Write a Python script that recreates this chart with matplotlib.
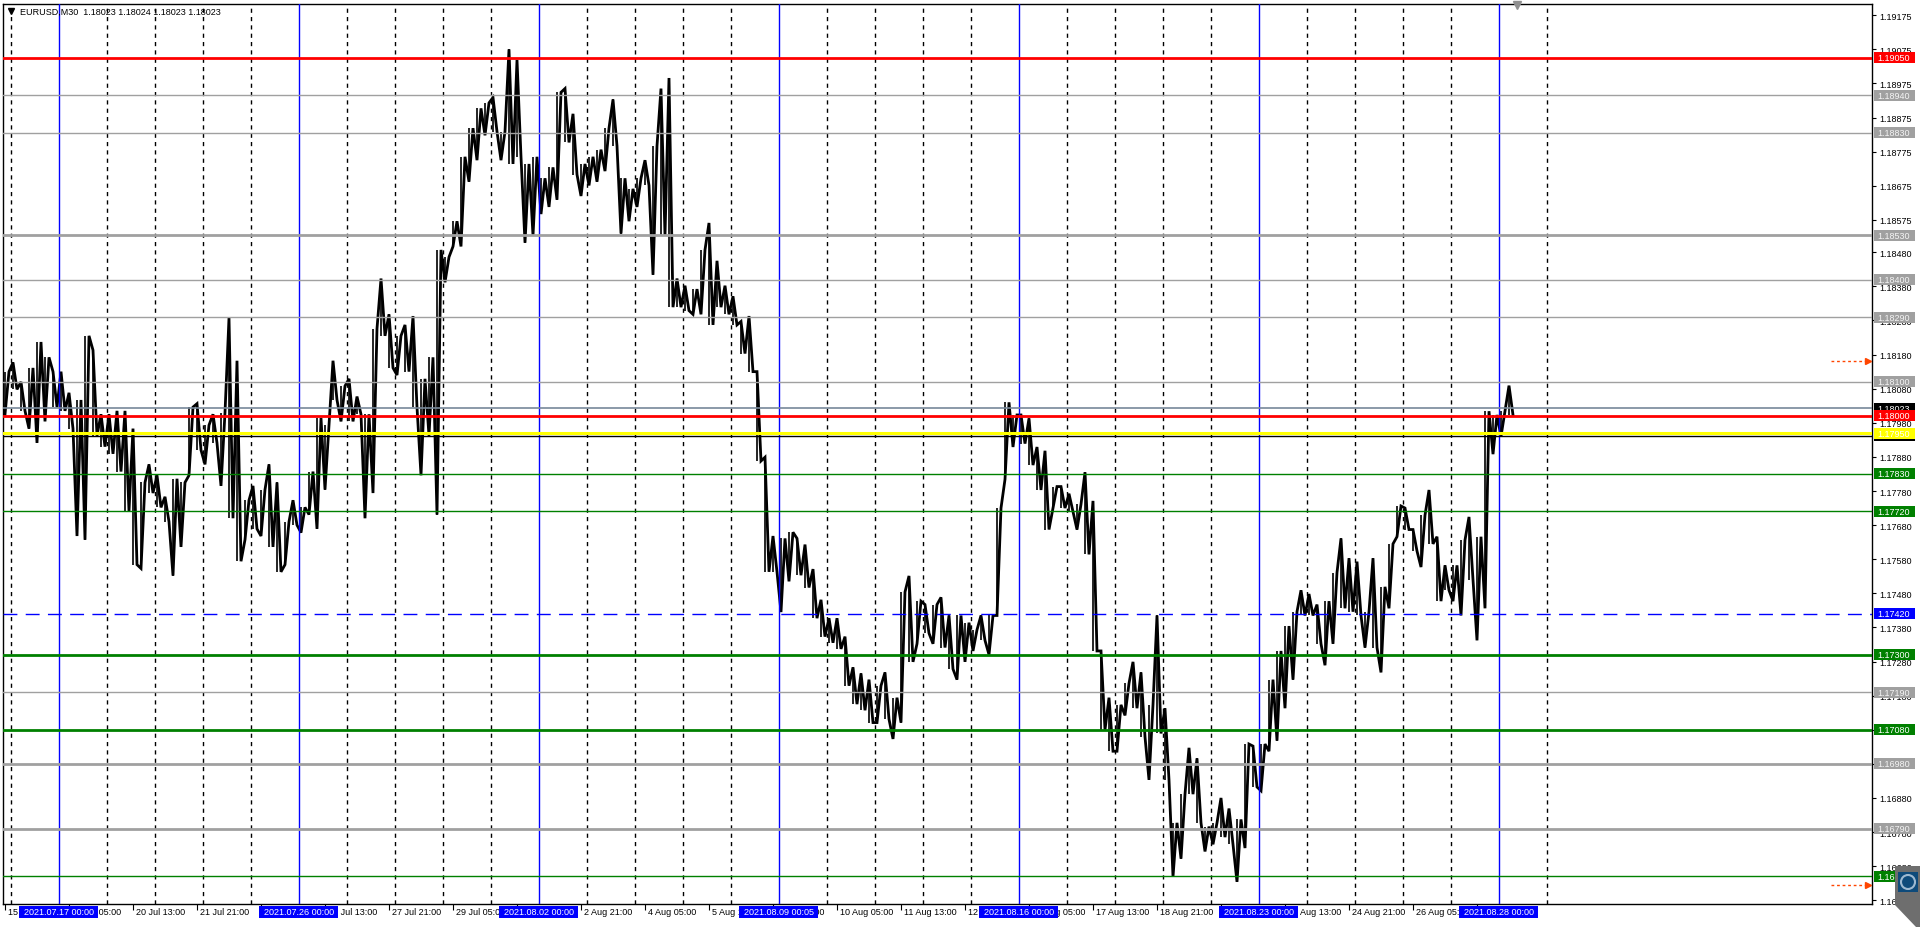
import matplotlib
matplotlib.use("Agg")
import matplotlib.pyplot as plt
import matplotlib.transforms as mtransforms
from matplotlib.patches import Rectangle, Polygon, Circle
import numpy as np

plt.rcParams['font.family'] = ['Liberation Sans', 'DejaVu Sans']

h4_high = [
    1.18130, 1.18157, 1.18100, 1.18141, 1.18217, 1.18172, 1.18130, 1.18130, 1.18068, 1.18047,
    1.18235, 1.18193, 1.18005, 1.18005, 1.18015, 1.18015, 1.17963, 1.17805, 1.17858, 1.17826,
    1.17763, 1.17816, 1.17805, 1.18026, 1.18036, 1.17973, 1.18005, 1.18010, 1.18288, 1.18162,
    1.17753, 1.17795, 1.17784, 1.17858, 1.17805, 1.17690, 1.17753, 1.17732, 1.17837, 1.17994,
    1.17973, 1.18162, 1.18088, 1.18109, 1.18057, 1.18005, 1.18256, 1.18403, 1.18298, 1.18235,
    1.18267, 1.18293, 1.18109, 1.18172, 1.18487, 1.18466, 1.18571, 1.18760, 1.18844, 1.18902,
    1.18918, 1.18934, 1.18834, 1.19075, 1.19044, 1.18739, 1.18760, 1.18697, 1.18729, 1.18949,
    1.18960, 1.18886, 1.18739, 1.18760, 1.18781, 1.18844, 1.18928, 1.18697, 1.18666, 1.18697,
    1.18750, 1.18792, 1.18960, 1.18991, 1.18403, 1.18382, 1.18372, 1.18487, 1.18566, 1.18455,
    1.18382, 1.18351, 1.18277, 1.18293, 1.18130, 1.17879, 1.17648, 1.17641, 1.17659, 1.17641,
    1.17623, 1.17551, 1.17461, 1.17407, 1.17407, 1.17353, 1.17263, 1.17245, 1.17227, 1.17209,
    1.17248, 1.17174, 1.17484, 1.17531, 1.17457, 1.17447, 1.17447, 1.17468, 1.17415, 1.17415,
    1.17394, 1.17373, 1.17415, 1.17415, 1.17730, 1.18040, 1.18003, 1.18003, 1.17993, 1.17909,
    1.17898, 1.17793, 1.17793, 1.17772, 1.17741, 1.17835, 1.17751, 1.17311, 1.17174, 1.17153,
    1.17216, 1.17279, 1.17248, 1.17153, 1.17415, 1.17143, 1.16807, 1.16891, 1.17027, 1.16996,
    1.16796, 1.16807, 1.16880, 1.16849, 1.16817, 1.17038, 1.17032, 1.17038, 1.17227, 1.17311,
    1.17384, 1.17426, 1.17489, 1.17478, 1.17447, 1.17457, 1.17541, 1.17641, 1.17583, 1.17573,
    1.17426, 1.17583, 1.17499, 1.17625, 1.17736, 1.17730, 1.17667, 1.17709, 1.17783, 1.17646,
    1.17562, 1.17562, 1.17636, 1.17704, 1.17646, 1.18014, 1.18003, 1.18014, 1.18089,
]
h4_low = [
    1.18005, 1.18078, 1.18015, 1.17963, 1.17921, 1.17984, 1.18026, 1.18015, 1.17963, 1.17648,
    1.17637, 1.17942, 1.17910, 1.17889, 1.17837, 1.17721, 1.17564, 1.17553, 1.17774, 1.17732,
    1.17690, 1.17532, 1.17616, 1.17826, 1.17900, 1.17858, 1.17921, 1.17795, 1.17700, 1.17574,
    1.17637, 1.17669, 1.17648, 1.17616, 1.17543, 1.17564, 1.17680, 1.17658, 1.17711, 1.17669,
    1.17784, 1.18047, 1.17984, 1.17984, 1.18005, 1.17700, 1.17774, 1.18235, 1.18141, 1.18120,
    1.18130, 1.18026, 1.17826, 1.17942, 1.17711, 1.18392, 1.18497, 1.18497, 1.18687, 1.18750,
    1.18823, 1.18834, 1.18750, 1.18739, 1.18760, 1.18508, 1.18529, 1.18592, 1.18613, 1.18634,
    1.18802, 1.18708, 1.18645, 1.18676, 1.18687, 1.18718, 1.18792, 1.18535, 1.18571, 1.18613,
    1.18676, 1.18414, 1.18529, 1.18319, 1.18319, 1.18309, 1.18298, 1.18298, 1.18267, 1.18319,
    1.18298, 1.18267, 1.18183, 1.18130, 1.17868, 1.17543, 1.17543, 1.17425, 1.17515, 1.17533,
    1.17497, 1.17407, 1.17353, 1.17335, 1.17317, 1.17209, 1.17155, 1.17137, 1.17101, 1.17101,
    1.17111, 1.17053, 1.17101, 1.17279, 1.17332, 1.17363, 1.17332, 1.17321, 1.17258, 1.17227,
    1.17279, 1.17311, 1.17342, 1.17300, 1.17415, 1.17814, 1.17909, 1.17919, 1.17856, 1.17783,
    1.17667, 1.17730, 1.17730, 1.17720, 1.17667, 1.17594, 1.17311, 1.17080, 1.17017, 1.17017,
    1.17122, 1.17143, 1.17059, 1.16933, 1.17069, 1.16933, 1.16649, 1.16702, 1.16891, 1.16807,
    1.16723, 1.16744, 1.16765, 1.16744, 1.16634, 1.16733, 1.16912, 1.16901, 1.17017, 1.17048,
    1.17143, 1.17227, 1.17415, 1.17415, 1.17332, 1.17269, 1.17332, 1.17436, 1.17426, 1.17415,
    1.17321, 1.17321, 1.17248, 1.17436, 1.17646, 1.17667, 1.17604, 1.17557, 1.17625, 1.17457,
    1.17489, 1.17457, 1.17415, 1.17520, 1.17342, 1.17436, 1.17888, 1.17940, 1.18003,
]

price_ticks = [1.19175, 1.19075, 1.18975, 1.18875, 1.18775, 1.18675, 1.18575, 1.18480,
               1.18380, 1.18280, 1.18180, 1.18080, 1.17980, 1.17880, 1.17780, 1.17680,
               1.17580, 1.17480, 1.17380, 1.17280, 1.17180, 1.17080, 1.16980, 1.16880,
               1.16780, 1.16680, 1.16580]

time_labels = ["15 Jul 21:00", "19 Jul 05:00", "20 Jul 13:00", "21 Jul 21:00", "23 Jul 05:00",
               "26 Jul 13:00", "27 Jul 21:00", "29 Jul 05:00", "30 Jul 13:00", "2 Aug 21:00",
               "4 Aug 05:00", "5 Aug 13:00", "6 Aug 21:00", "10 Aug 05:00", "11 Aug 13:00",
               "12 Aug 21:00", "16 Aug 05:00", "17 Aug 13:00", "18 Aug 21:00", "20 Aug 05:00",
               "23 Aug 13:00", "24 Aug 21:00", "26 Aug 05:00", "27 Aug 13:00"]

week_labels = ["2021.07.17 00:00", "2021.07.26 00:00", "2021.08.02 00:00", "2021.08.09 00:05",
               "2021.08.16 00:00", "2021.08.23 00:00", "2021.08.28 00:00"]

level_prices = [1.19050, 1.18940, 1.18830, 1.18530, 1.18400, 1.18290, 1.18100, 1.18000,
                1.17950, 1.17830, 1.17720, 1.17420, 1.17300, 1.17190, 1.17080, 1.16980,
                1.16790, 1.16650]
level_kinds = ["red", "gray", "gray", "gray2", "gray", "gray", "gray", "red",
               "yellow", "green", "green", "blue", "green2", "gray", "green2", "gray2",
               "gray2", "green"]

bid_price = 1.18023
low_line_price = 1.17942
alert_prices = [1.18160, 1.16625]
quote = "EURUSD,M30  1.18023 1.18024 1.18023 1.18023"

styles = {
    "red":    dict(color="#FF0000", lw=2.0, ls="-", box="#FF0000", txt="white"),
    "gray":   dict(color="#A0A0A0", lw=1.0, ls="-", box="#A0A0A0", txt="#F4F4F4"),
    "gray2":  dict(color="#A0A0A0", lw=2.0, ls="-", box="#A0A0A0", txt="#F4F4F4"),
    "yellow": dict(color="#FFFF00", lw=2.2, ls="-", box="#FFFF00", txt="white"),
    "green":  dict(color="#008000", lw=1.0, ls="-", box="#008000", txt="white"),
    "green2": dict(color="#008000", lw=2.0, ls="-", box="#008000", txt="white"),
    "blue":   dict(color="#0000FF", lw=1.0, ls=(0, (10, 6)), box="#0000FF", txt="white"),
}

W, H = 1920, 928
AX_L, AX_R, AX_T, AX_B = 3, 1872, 5, 905
ymin, ymax = 1.16569, 1.19208
n_bars = AX_R - AX_L          # one M30 bar per pixel
bars_per_h4 = 8
bars_per_day = 48
bars_per_week = 240

fig = plt.figure(figsize=(W / 100, H / 100), dpi=100)
ax = fig.add_axes([AX_L / W, (H - AX_B) / H, (AX_R - AX_L) / W, (AX_B - AX_T) / H])
ax.set_xlim(0, n_bars)
ax.set_ylim(ymin, ymax)
for s in ax.spines.values():
    s.set_color("black")
    s.set_linewidth(1.0)

px_x = 1.0 / n_bars                      # one pixel in axes fraction (x)
px_y = (ymax - ymin) / (AX_B - AX_T)     # one pixel in price units

# grid: daily separators (dashed) and weekly separators (blue)
last_bar = len(h4_high) * bars_per_h4
week_starts = np.arange(56, last_bar, bars_per_week)
for d in np.arange(8, last_bar + 40, bars_per_day):
    if d in week_starts:
        continue
    ax.axvline(d, color="black", lw=1.0, ls=(0, (3, 3)), zorder=1)

# price path: zigzag through each 4h high / low, plus the 4h range as a bar
hi = np.array(h4_high)
lo = np.array(h4_low)
mid = (hi + lo) / 2
xs, ys = [], []
for k in range(len(hi)):
    x0 = k * bars_per_h4
    rising = k + 1 < len(hi) and mid[k + 1] >= mid[k]
    xs += [x0 + 2, x0 + 6]
    ys += [lo[k], hi[k]] if rising else [hi[k], lo[k]]
ax.plot(xs, ys, color="black", lw=2.0, solid_joinstyle="miter", zorder=2)
ax.vlines(np.array(xs[::2]), lo, hi, color="black", lw=1.2, zorder=2)

for w in week_starts:
    ax.axvline(w, color="#0000FF", lw=1.0, zorder=3)

# horizontal levels
trans_r = mtransforms.blended_transform_factory(ax.transAxes, ax.transData)
box_h = 11 * px_y


def price_label(p, box, txt, z):
    ax.add_patch(Rectangle((1 + 1.5 * px_x, p - box_h / 2), 41 * px_x, box_h,
                           transform=trans_r, facecolor=box, edgecolor="none",
                           clip_on=False, zorder=z))
    ax.text(1 + 5 * px_x, p, "%.5f" % p, transform=trans_r, color=txt, fontsize=6.5,
            va="center", ha="left", clip_on=False, zorder=z + 0.1)


ax.axhline(low_line_price, color="black", lw=1.0, zorder=3)
price_label(low_line_price, "black", "white", 5)
ax.axhline(bid_price, color="#778899", lw=1.2, zorder=3)
price_label(bid_price, "black", "white", 5.2)

for i, (p, kind) in enumerate(zip(level_prices, level_kinds)):
    st = styles[kind]
    ax.axhline(p, color=st["color"], lw=st["lw"], ls=st["ls"], zorder=4)
    price_label(p, st["box"], st["txt"], 6 + i * 0.2)

# alert arrows in the right margin
for p in alert_prices:
    ax.plot([n_bars - 41, n_bars - 5], [p, p], color="#FF4500", lw=1.0, ls=(0, (2, 2)),
            zorder=4, clip_on=False)
    ax.plot([n_bars - 4], [p], marker=">", color="#FF4500", ms=4, zorder=4, clip_on=False)

# right price scale
ax.yaxis.tick_right()
ax.set_yticks(price_ticks)
ax.set_yticklabels(["%.5f" % t for t in price_ticks])
ax.tick_params(axis="y", direction="out", length=3, width=0.8, pad=2, labelsize=6.5,
               colors="black")

# bottom time scale
time_ticks = np.arange(len(time_labels)) * 64 + 2
ax.set_xticks(time_ticks)
ax.set_xticklabels([])
ax.tick_params(axis="x", direction="out", length=4, width=0.8)
trans_b = mtransforms.blended_transform_factory(ax.transData, ax.transAxes)
for t, lab in zip(time_ticks, time_labels):
    ax.text(t + 3, -7.5 / 900, lab, transform=trans_b, fontsize=6.5, ha="left",
            va="center", clip_on=False, zorder=3)
for w, lab in zip(week_starts, week_labels):
    ax.add_patch(Rectangle((w - 39.5, -13.5 / 900), 79, 12 / 900, transform=trans_b,
                           facecolor="#0000FF", edgecolor="none", clip_on=False, zorder=6))
    ax.text(w, -7.5 / 900, lab, transform=trans_b, fontsize=6.5, color="white",
            ha="center", va="center", clip_on=False, zorder=7)

# header text and chart-shift marker
ax.plot([8 * px_x], [1 - 7 / 900], marker="v", color="black", ms=4,
        transform=ax.transAxes, clip_on=False)
ax.text(17 * px_x, 1 - 7.5 / 900, quote, transform=ax.transAxes, fontsize=6.5,
        ha="left", va="center")
ax.plot([last_bar + 2], [1 - 1 / 900], marker="v", color="#909090", ms=6,
        transform=trans_b, clip_on=False, zorder=8)

# floating widget in the lower right corner
fig.patches.append(Polygon([(1895, H - 867), (W, H - 867), (W, 0), (1916, 0), (1895, H - 906)],
                           closed=True, transform=None, facecolor="#6E6E6E",
                           edgecolor="none", zorder=10))
fig.patches.append(Rectangle((1898, H - 893), 20, 20, transform=None, facecolor="#0E4A7A",
                             edgecolor="none", zorder=11))
fig.patches.append(Circle((1908, H - 883), 7, transform=None, facecolor="none",
                          edgecolor="#9DB8D0", lw=1.5, zorder=12))

fig.savefig("out.png", dpi=100)
